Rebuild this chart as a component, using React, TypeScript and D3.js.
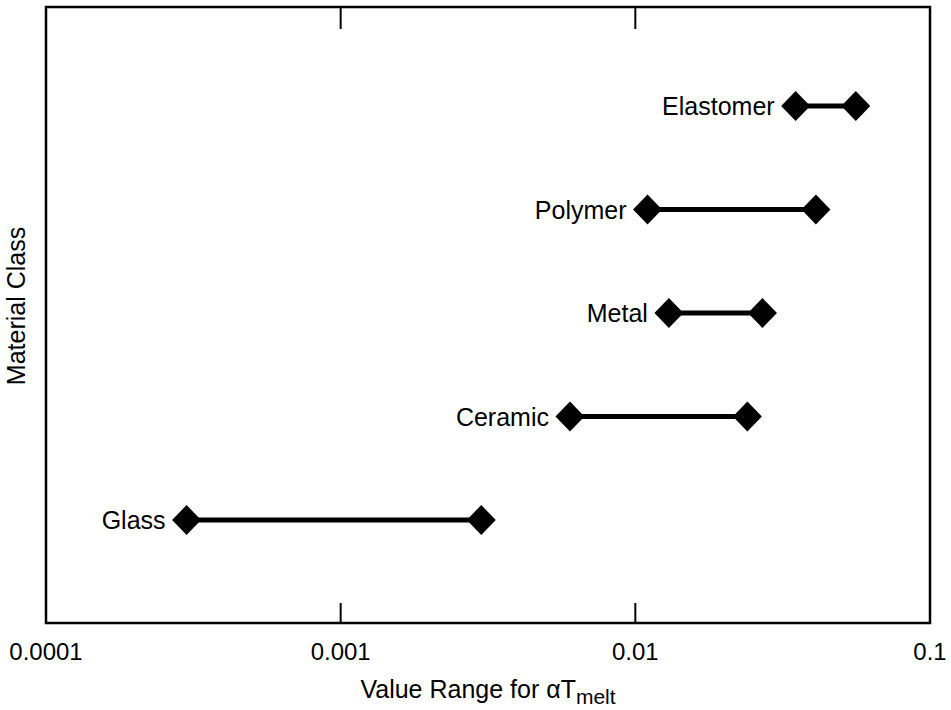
import React from "react";
import * as d3 from "d3";

const categories = ["Glass", "Ceramic", "Metal", "Polymer", "Elastomer"];
const minValues = [0.0003, 0.006, 0.013, 0.011, 0.035];
const maxValues = [0.003, 0.024, 0.027, 0.041, 0.056];
const tickValues = [0.0001, 0.001, 0.01, 0.1];
const tickLabels = ["0.0001", "0.001", "0.01", "0.1"];

const W = 951;
const H = 710;
const left = 46;
const right = 930;
const top = 7;
const bottom = 623;

export default function App() {
  const x = d3.scaleLog().domain([0.0001, 0.1]).range([left, right]);
  const y = d3.scaleLinear().domain([1, categories.length]).range([520, 106]);
  const font = "Arial, 'Liberation Sans', Helvetica, sans-serif";
  const diamond = (cx: number, cy: number) => {
    const hw = 14.5, hh = 15;
    return `M${cx},${cy - hh}L${cx + hw},${cy}L${cx},${cy + hh}L${cx - hw},${cy}Z`;
  };
  return (
    <svg width={W} height={H} style={{ position: "absolute", left: 0, top: 0, background: "#fff" }} fontFamily={font}>
      <rect x={left} y={top} width={right - left} height={bottom - top} fill="none" stroke="#000" strokeWidth={2.5} />
      {tickValues.map((v, i) => (
        <g key={i}>
          {i > 0 && i < tickValues.length - 1 && (
            <>
              <line x1={x(v)} x2={x(v)} y1={bottom} y2={bottom - 20} stroke="#000" strokeWidth={2} />
              <line x1={x(v)} x2={x(v)} y1={top} y2={top + 22} stroke="#000" strokeWidth={2} />
            </>
          )}
          <text x={x(v)} y={660} fontSize={24} textAnchor="middle" fill="#000">{tickLabels[i]}</text>
        </g>
      ))}
      {categories.map((c, i) => {
        const cy = y(i + 1);
        const x0 = x(minValues[i]);
        const x1 = x(maxValues[i]);
        return (
          <g key={c}>
            <line x1={x0} x2={x1} y1={cy} y2={cy} stroke="#000" strokeWidth={5} />
            <path d={diamond(x0, cy)} fill="#000" />
            <path d={diamond(x1, cy)} fill="#000" />
            <text x={x0 - 21} y={cy + 9} fontSize={25} textAnchor="end" fill="#000">{c}</text>
          </g>
        );
      })}
      <text x={(left + right) / 2} y={698} fontSize={25} textAnchor="middle" fill="#000">
        Value Range for αT<tspan fontSize={21} dy={6}>melt</tspan>
      </text>
      <text transform={`translate(25,306) rotate(-90)`} fontSize={25} textAnchor="middle" fill="#000">
        Material Class
      </text>
    </svg>
  );
}
